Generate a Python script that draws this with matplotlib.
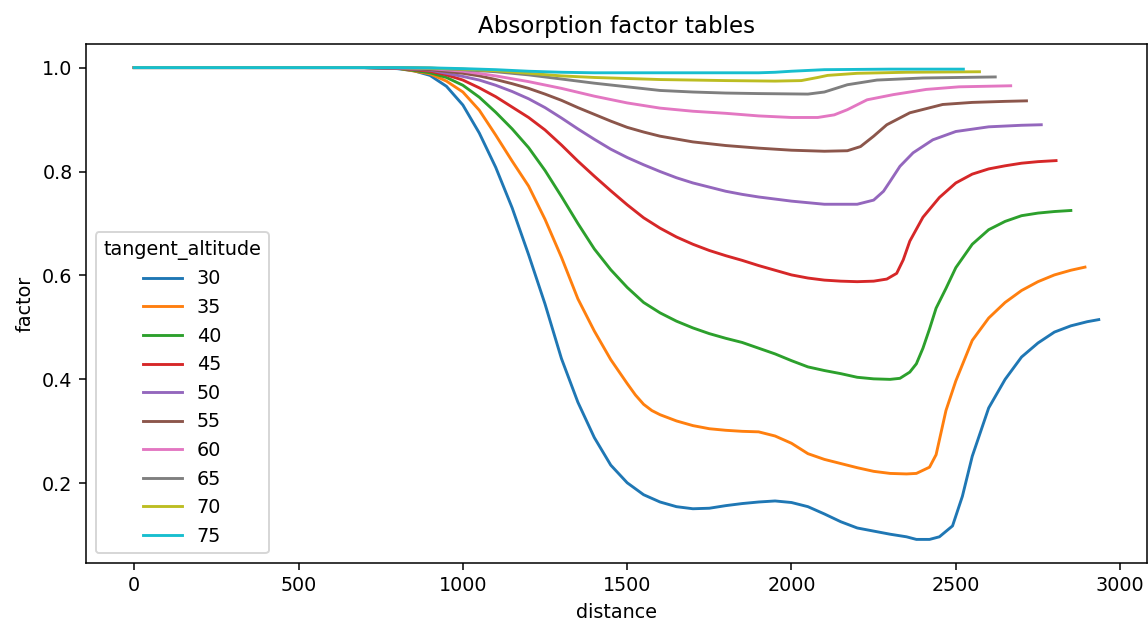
import matplotlib
matplotlib.use("Agg")
import matplotlib.pyplot as plt

altitudes = [30, 35, 40, 45, 50, 55, 60, 65, 70, 75]

dist_30 = [0, 600, 700, 800, 850, 900, 950, 1000, 1050, 1100, 1150, 1200, 1250, 1300, 1350, 1400, 1450, 1500,
           1550, 1600, 1650, 1700, 1750, 1800, 1850, 1900, 1950, 2000, 2050, 2100, 2150, 2200, 2250, 2300,
           2350, 2380, 2420, 2450, 2490, 2520, 2550, 2600, 2650, 2700, 2750, 2800, 2850, 2900, 2935]
fac_30 = [1.0, 1.0, 1.0, 0.998, 0.994, 0.985, 0.964, 0.928, 0.874, 0.808, 0.730, 0.640, 0.545, 0.440, 0.356,
          0.288, 0.235, 0.201, 0.178, 0.164, 0.155, 0.151, 0.152, 0.157, 0.161, 0.164, 0.166, 0.163, 0.155,
          0.141, 0.126, 0.114, 0.108, 0.102, 0.097, 0.092, 0.092, 0.097, 0.118, 0.175, 0.252, 0.345, 0.400,
          0.443, 0.470, 0.491, 0.503, 0.511, 0.515]

dist_35 = [0, 600, 700, 800, 900, 950, 1000, 1050, 1100, 1150, 1200, 1250, 1300, 1350, 1400, 1450, 1500,
           1525, 1550, 1575, 1600, 1650, 1700, 1750, 1800, 1850, 1900, 1950, 2000, 2050, 2100, 2150, 2200,
           2250, 2300, 2350, 2380, 2420, 2440, 2470, 2500, 2550, 2600, 2650, 2700, 2750, 2800, 2850, 2893]
fac_35 = [1.0, 1.0, 1.0, 0.999, 0.988, 0.974, 0.953, 0.918, 0.870, 0.820, 0.772, 0.708, 0.635, 0.555, 0.493,
          0.438, 0.392, 0.370, 0.352, 0.340, 0.332, 0.320, 0.311, 0.305, 0.302, 0.300, 0.299, 0.291, 0.277,
          0.257, 0.246, 0.238, 0.230, 0.223, 0.219, 0.218, 0.219, 0.231, 0.255, 0.340, 0.397, 0.475, 0.518,
          0.548, 0.571, 0.588, 0.601, 0.610, 0.616]

dist_40 = [0, 600, 700, 800, 900, 950, 1000, 1050, 1100, 1150, 1200, 1250, 1300, 1350, 1400, 1450, 1500,
           1550, 1600, 1650, 1700, 1750, 1800, 1850, 1900, 1950, 2000, 2050, 2100, 2150, 2200, 2250, 2300,
           2330, 2360, 2380, 2400, 2420, 2440, 2470, 2500, 2550, 2600, 2650, 2700, 2750, 2800, 2850]
fac_40 = [1.0, 1.0, 1.0, 0.999, 0.990, 0.981, 0.966, 0.943, 0.914, 0.882, 0.846, 0.802, 0.752, 0.700, 0.651,
          0.611, 0.577, 0.548, 0.528, 0.512, 0.499, 0.488, 0.479, 0.471, 0.460, 0.449, 0.436, 0.424, 0.417,
          0.411, 0.404, 0.401, 0.400, 0.402, 0.414, 0.430, 0.460, 0.497, 0.537, 0.575, 0.615, 0.660, 0.688,
          0.704, 0.715, 0.720, 0.723, 0.725]

dist_45 = [0, 600, 700, 800, 900, 950, 1000, 1050, 1100, 1150, 1200, 1250, 1300, 1350, 1400, 1450, 1500, 1550,
           1600, 1650, 1700, 1750, 1800, 1850, 1900, 1950, 2000, 2050, 2100, 2150, 2200, 2250, 2290, 2320,
           2340, 2360, 2400, 2450, 2500, 2550, 2600, 2650, 2700, 2750, 2805]
fac_45 = [1.0, 1.0, 1.0, 0.999, 0.993, 0.986, 0.976, 0.961, 0.944, 0.924, 0.904, 0.880, 0.851, 0.820, 0.791,
          0.763, 0.736, 0.711, 0.691, 0.674, 0.660, 0.648, 0.638, 0.629, 0.619, 0.610, 0.601, 0.595, 0.591,
          0.589, 0.588, 0.589, 0.593, 0.604, 0.630, 0.666, 0.712, 0.750, 0.778, 0.795, 0.805, 0.811, 0.816,
          0.819, 0.821]

dist_50 = [0, 600, 700, 800, 900, 1000, 1050, 1100, 1150, 1200, 1250, 1300, 1350, 1400, 1450, 1500, 1550,
           1600, 1650, 1700, 1750, 1800, 1850, 1900, 1950, 2000, 2100, 2200, 2250, 2280, 2300, 2330, 2370,
           2430, 2500, 2600, 2700, 2760]
fac_50 = [1.0, 1.0, 1.0, 0.999, 0.995, 0.983, 0.976, 0.966, 0.954, 0.940, 0.923, 0.903, 0.882, 0.862, 0.843,
          0.827, 0.813, 0.800, 0.788, 0.778, 0.770, 0.762, 0.756, 0.751, 0.747, 0.743, 0.737, 0.737, 0.745,
          0.762, 0.781, 0.810, 0.836, 0.861, 0.877, 0.886, 0.889, 0.890]

dist_55 = [0, 600, 700, 800, 900, 1000, 1050, 1100, 1150, 1200, 1250, 1300, 1350, 1400, 1450, 1500, 1550,
           1600, 1700, 1800, 1900, 2000, 2100, 2170, 2210, 2250, 2290, 2360, 2460, 2550, 2650, 2715]
fac_55 = [1.0, 1.0, 1.0, 0.999, 0.996, 0.989, 0.984, 0.977, 0.969, 0.960, 0.949, 0.937, 0.923, 0.910, 0.897,
          0.885, 0.876, 0.868, 0.857, 0.850, 0.845, 0.841, 0.839, 0.840, 0.848, 0.868, 0.890, 0.913, 0.929,
          0.933, 0.935, 0.936]

dist_60 = [0, 600, 700, 800, 900, 1000, 1100, 1200, 1300, 1400, 1500, 1600, 1700, 1800, 1900, 2000, 2080,
           2130, 2170, 2230, 2310, 2410, 2510, 2667]
fac_60 = [1.0, 1.0, 1.0, 0.9995, 0.998, 0.993, 0.984, 0.973, 0.960, 0.945, 0.932, 0.922, 0.916, 0.912, 0.907,
          0.904, 0.904, 0.909, 0.919, 0.938, 0.948, 0.958, 0.963, 0.965]

dist_65 = [0, 600, 700, 800, 900, 1000, 1100, 1200, 1300, 1400, 1500, 1600, 1700, 1800, 1900, 2050, 2100,
           2170, 2260, 2400, 2620]
fac_65 = [1.0, 1.0, 1.0, 1.0, 0.999, 0.996, 0.992, 0.986, 0.978, 0.970, 0.963, 0.956, 0.953, 0.951, 0.950,
          0.949, 0.953, 0.967, 0.976, 0.980, 0.982]

dist_70 = [0, 600, 700, 800, 900, 1000, 1100, 1200, 1300, 1400, 1500, 1600, 1800, 1950, 2030, 2080, 2110,
           2200, 2350, 2572]
fac_70 = [1.0, 1.0, 1.0, 1.0, 0.999, 0.997, 0.994, 0.989, 0.984, 0.981, 0.979, 0.977, 0.975, 0.974, 0.975,
          0.981, 0.985, 0.989, 0.991, 0.992]

dist_75 = [0, 600, 700, 800, 900, 1000, 1100, 1200, 1300, 1400, 1600, 1900, 1950, 2000, 2100, 2300, 2523]
fac_75 = [1.0, 1.0, 1.0, 1.0, 0.9995, 0.998, 0.996, 0.993, 0.991, 0.990, 0.990, 0.990, 0.991, 0.993, 0.996,
          0.997, 0.997]

distances = [dist_30, dist_35, dist_40, dist_45, dist_50, dist_55, dist_60, dist_65, dist_70, dist_75]
factors = [fac_30, fac_35, fac_40, fac_45, fac_50, fac_55, fac_60, fac_65, fac_70, fac_75]

DPI = 138
fig = plt.figure(figsize=(1148 / DPI, 620 / DPI), dpi=DPI)
ax = fig.add_axes([86 / 1148, 1 - 563 / 620, (1147 - 86) / 1148, (563 - 44) / 620])

for alt, d, f in zip(altitudes, distances, factors):
    ax.plot(d, f, label=str(alt), linewidth=1.5)

ax.set_title("Absorption factor tables")
ax.set_xlabel("distance")
ax.set_ylabel("factor")
ax.set_xticks([0, 500, 1000, 1500, 2000, 2500, 3000])
ax.set_yticks([0.2, 0.4, 0.6, 0.8, 1.0])
ax.legend(title="tangent_altitude", loc="lower left")

fig.savefig("out.png", dpi=DPI)
